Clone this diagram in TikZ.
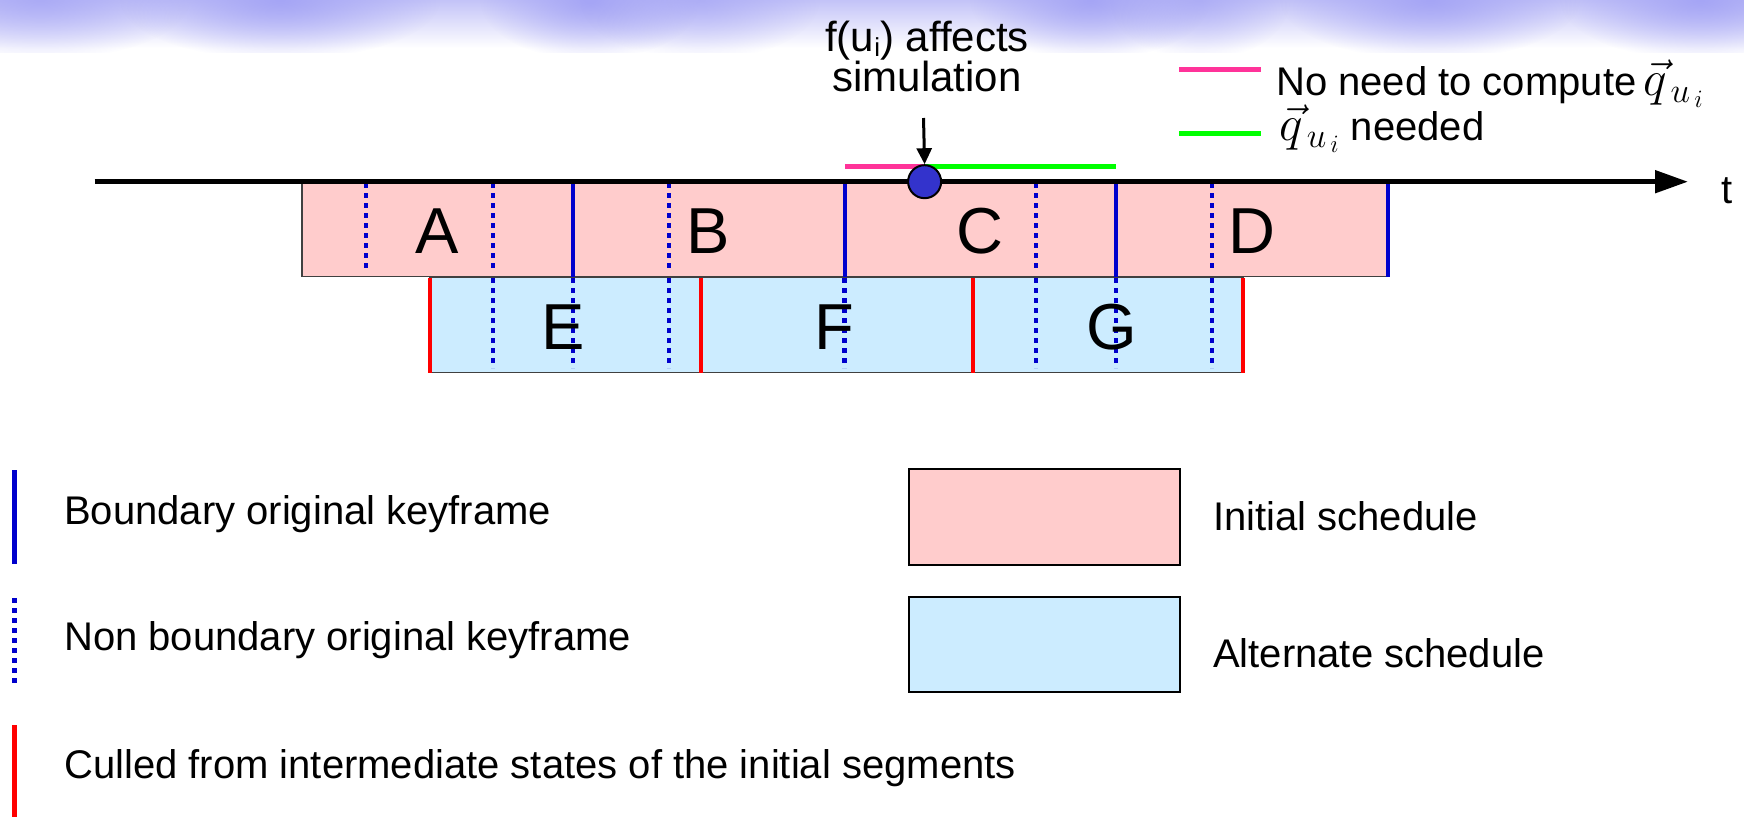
\RequirePackage{fix-cm}
\documentclass[tikz,border=0pt]{standalone}
\usepackage{fontspec}
\setmainfont{Liberation Sans}
\usetikzlibrary{arrows.meta,fadings}
\definecolor{pinkfill}{RGB}{255,204,204}
\definecolor{bluefill}{RGB}{204,236,255}
\definecolor{kfblue}{RGB}{0,0,204}
\definecolor{cullred}{RGB}{255,0,0}
\definecolor{nomag}{RGB}{255,51,153}
\definecolor{needgreen}{RGB}{0,255,0}
\definecolor{dotblue}{RGB}{51,51,204}
\definecolor{bgtop}{RGB}{195,195,248}
\definecolor{lav}{RGB}{165,165,245}
\tikzfading[name=fuzzyblob, inner color=transparent!0, outer color=transparent!100]
\newcommand{\lowsub}[1]{\raisebox{-5pt}{\fontsize{26}{26}\selectfont #1}}
\begin{document}
\begin{tikzpicture}[x=1pt,y=-1pt,
  boundary/.style={kfblue,line width=4pt},
  nonboundary/.style={kfblue,line width=4.5pt,dash pattern=on 5pt off 5pt},
  culled/.style={cullred,line width=4pt},
  seglabel/.style={font=\fontsize{65}{78}\selectfont,anchor=base,inner sep=0pt},
  legtext/.style={font=\fontsize{40}{48}\selectfont,anchor=base west,inner sep=0pt},
  annot/.style={font=\fontsize{42}{39}\selectfont,align=center,inner sep=0pt},
  schedbox/.style={draw=black!75,line width=1.5pt},
  legbox/.style={draw=black,line width=2pt},
  blob/.style={fill=lav,path fading=fuzzyblob}]
\useasboundingbox (0,0) rectangle (1744,817);
% background band
\begin{scope}
\clip (0,0) rectangle (1744,52);
\shade[top color=bgtop,bottom color=white] (0,0) rectangle (1744,48);
\foreach \cx/\rx/\op in {40/150/0.8, 280/160/1, 590/110/1, 700/120/0.7, 1090/120/1, 1200/90/0.7, 1430/150/1, 1700/140/1}
  \fill[blob,opacity=\op] (\cx,0) ellipse ({\rx} and 60);
\end{scope}
% schedules
\draw[schedbox,fill=pinkfill] (301.8,183) rectangle (1387.7,276.7);
\draw[schedbox,fill=bluefill] (429.6,277.5) rectangle (1243.4,372.7);
% boundary keyframes (top)
\foreach \x in {573.1,844.5,1116,1387.7}
  \draw[boundary] (\x,183) -- (\x,276.5);
% non boundary keyframes (top)
\foreach \x in {366.1,493.2,669.2,1036,1212}
  \draw[nonboundary] (\x,183) -- (\x,272);
% non boundary keyframes (bottom)
\foreach \x in {493.2,573.1,669.2,844.5,1036,1116,1212}
  \draw[nonboundary] (\x,278) -- (\x,368);
% culled
\foreach \x in {429.6,701,972.5,1243.4}
  \draw[culled] (\x,277.5) -- (\x,372.7);
% labels
\node[seglabel] (A) at (437,253.3) {A};
\node[seglabel] (B) at (708.6,253.3) {B};
\node[seglabel] (C) at (980,253.3) {C};
\node[seglabel] (D) at (1252,253.3) {D};
\node[seglabel] (E) at (563,349.3) {E};
\node[seglabel] (F) at (834,349.3) {F};
\node[seglabel] (G) at (1112,349.3) {G};
% axis
\coordinate (axstart) at (94.5,181.7);
\coordinate (axend) at (1688,181.7);
\draw[line width=5pt,-{Triangle[length=33pt,width=22pt]}] (axstart) -- (axend);
\node[legtext] (t) at (1721,203) {t};
% need lines
\coordinate (magL) at (845,166);
\coordinate (split) at (923.5,166);
\coordinate (grnR) at (1116,166);
\draw[nomag,line width=5pt] (magL) -- (split);
\draw[needgreen,line width=5pt] (split) -- (grnR);
% event dot and arrow
\node[circle,fill=dotblue,draw=black,line width=2pt,minimum size=33pt,inner sep=0pt] (dot) at (924.6,181.7) {};
\coordinate (arrtop) at (923.5,118);
\draw[line width=3pt,-{Triangle[length=16pt,width=15pt]}] (arrtop) -- (dot.north);
\node[annot,anchor=south] (ann) at (927,92) {f(u\lowsub{i}) affects\\simulation};
% top-right legend
\coordinate (l1a) at (1179,69.3); \coordinate (l1b) at (1260.5,69.3);
\coordinate (l2a) at (1179,133.3); \coordinate (l2b) at (1260.5,133.3);
\draw[nomag,line width=5pt] (l1a) -- (l1b);
\draw[needgreen,line width=5pt] (l2a) -- (l2b);
\node[legtext] (nl1) at (1276,95) {No need to compute\,{\fontsize{50}{60}\selectfont$\vec{q}_{\,u_{\,i}}$}};
\node[legtext] (nl2) at (1279,140) {{\fontsize{50}{60}\selectfont$\vec{q}_{\,u_{\,i}}$}\ needed};
% bottom legend
\draw[boundary,line width=5pt] (14,470) -- (14,564);
\draw[nonboundary,line width=5pt] (14,598) -- (14,686);
\draw[culled,line width=5pt] (14,725) -- (14,817);
\node[legtext] (lb1) at (64,524) {Boundary original keyframe};
\node[legtext] (lb2) at (64,650) {Non boundary original keyframe};
\node[legtext] (lb3) at (64,778) {Culled from intermediate states of the initial segments};
\draw[legbox,fill=pinkfill] (908.6,469) rectangle (1180,565);
\draw[legbox,fill=bluefill] (908.6,596.7) rectangle (1180,692);
\node[legtext] (ls1) at (1213,530) {Initial schedule};
\node[legtext] (ls2) at (1213,667) {Alternate schedule};
\end{tikzpicture}
\end{document}
